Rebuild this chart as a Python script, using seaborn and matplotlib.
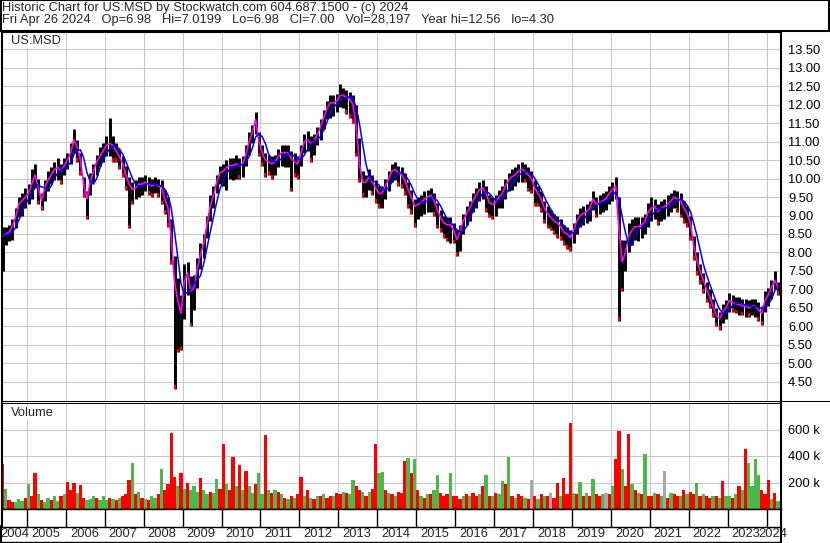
import numpy as np
import pandas as pd
import matplotlib
matplotlib.use("Agg")
import matplotlib.pyplot as plt
from matplotlib.lines import Line2D
from matplotlib.patches import Rectangle
import seaborn as sns

# monthly values, May 2004 .. Apr 2024
start_month = "2004-05"

close = [
    8.45, 8.50, 8.55, 8.70, 8.95, 9.30, 9.40, 9.50,                          # 2004
    9.60, 9.85, 10.10, 9.75, 9.40, 9.75, 9.95, 10.10, 10.25, 10.30, 10.20, 10.35,  # 2005
    10.50, 10.70, 11.05, 10.85, 10.50, 9.85, 9.45, 9.90, 10.20, 10.45, 10.60, 10.75,  # 2006
    10.90, 10.95, 10.90, 10.75, 10.60, 10.40, 10.10, 9.85, 9.70, 9.75, 9.85, 9.85,  # 2007
    9.90, 9.85, 9.80, 9.85, 9.80, 9.75, 9.45, 9.20, 8.40, 7.20, 6.70, 6.35,  # 2008
    7.20, 7.45, 6.95, 7.05, 7.55, 7.95, 8.25, 8.75, 9.25, 9.55, 9.90, 10.15,  # 2009
    10.20, 10.30, 10.35, 10.35, 10.40, 10.35, 10.40, 10.65, 11.00, 11.25, 11.60, 11.00,  # 2010
    10.70, 10.50, 10.45, 10.40, 10.45, 10.60, 10.70, 10.70, 10.70, 10.55, 10.45, 10.40,  # 2011
    10.70, 11.00, 11.05, 10.95, 11.00, 11.20, 11.40, 11.65, 11.90, 12.05, 12.05, 12.10,  # 2012
    12.25, 12.25, 12.20, 12.15, 12.00, 11.40, 10.40, 9.90, 9.90, 10.05, 9.90, 9.75,  # 2013
    9.60, 9.60, 9.80, 10.00, 10.20, 10.25, 10.15, 10.10, 9.95, 9.70, 9.50, 9.25,  # 2014
    9.30, 9.35, 9.45, 9.50, 9.55, 9.40, 9.15, 8.95, 8.80, 8.75, 8.75, 8.60,  # 2015
    8.35, 8.55, 8.85, 9.05, 9.20, 9.40, 9.55, 9.70, 9.75, 9.60, 9.35, 9.30,  # 2016
    9.35, 9.50, 9.60, 9.80, 9.95, 10.05, 10.10, 10.20, 10.25, 10.20, 10.10, 10.00,  # 2017
    9.75, 9.60, 9.45, 9.20, 9.05, 8.95, 8.85, 8.80, 8.70, 8.55, 8.50, 8.40,  # 2018
    8.60, 8.85, 9.00, 9.05, 9.10, 9.20, 9.45, 9.30, 9.35, 9.40, 9.45, 9.60,  # 2019
    9.70, 9.80, 8.60, 7.75, 8.00, 8.45, 8.60, 8.70, 8.70, 8.75, 8.85, 9.10,  # 2020
    9.20, 9.25, 9.10, 9.20, 9.25, 9.30, 9.40, 9.50, 9.45, 9.40, 9.20, 9.05,  # 2021
    8.80, 8.20, 7.80, 7.50, 7.25, 7.00, 6.80, 6.55, 6.30, 6.20, 6.40, 6.50,  # 2022
    6.70, 6.65, 6.60, 6.60, 6.55, 6.55, 6.50, 6.55, 6.55, 6.45, 6.35, 6.70,  # 2023
    6.85, 7.05, 7.25, 7.05,                                                  # 2024
]

# distance of the monthly high / low from the close
band_up = [
    0.25, 0.20, 0.20, 0.20, 0.25, 0.20, 0.20, 0.25,
    0.25, 0.40, 0.30, 0.25, 0.20, 0.20, 0.25, 0.20, 0.20, 0.25, 0.20, 0.20,
    0.20, 0.25, 0.30, 0.20, 0.20, 0.20, 0.20, 0.25, 0.20, 0.20, 0.25, 0.20,
    0.25, 0.70, 0.25, 0.20, 0.20, 0.20, 0.25, 0.20, 0.20, 0.20, 0.20, 0.20,
    0.20, 0.20, 0.20, 0.20, 0.20, 0.20, 0.25, 0.30, 0.50, 0.70, 0.60, 0.50,
    0.50, 0.30, 0.40, 0.35, 0.30, 0.30, 0.25, 0.25, 0.30, 0.25, 0.20, 0.20,
    0.20, 0.20, 0.20, 0.20, 0.25, 0.20, 0.20, 0.25, 0.25, 0.20, 0.20, 0.25,
    0.20, 0.20, 0.20, 0.20, 0.20, 0.20, 0.20, 0.20, 0.20, 0.20, 0.25, 0.20,
    0.20, 0.20, 0.25, 0.20, 0.20, 0.20, 0.20, 0.20, 0.20, 0.20, 0.20, 0.20,
    0.30, 0.20, 0.20, 0.20, 0.25, 0.60, 0.70, 0.30, 0.20, 0.20, 0.20, 0.20,
    0.20, 0.20, 0.20, 0.20, 0.20, 0.20, 0.20, 0.20, 0.20, 0.20, 0.20, 0.20,
    0.20, 0.20, 0.20, 0.20, 0.20, 0.20, 0.20, 0.20, 0.20, 0.20, 0.20, 0.20,
    0.25, 0.20, 0.20, 0.20, 0.20, 0.20, 0.20, 0.20, 0.20, 0.20, 0.20, 0.20,
    0.20, 0.20, 0.20, 0.20, 0.20, 0.20, 0.20, 0.20, 0.20, 0.20, 0.20, 0.20,
    0.20, 0.20, 0.20, 0.20, 0.20, 0.20, 0.20, 0.20, 0.20, 0.20, 0.20, 0.20,
    0.20, 0.20, 0.20, 0.20, 0.20, 0.20, 0.20, 0.20, 0.20, 0.20, 0.20, 0.20,
    0.20, 0.25, 0.90, 0.60, 0.35, 0.35, 0.30, 0.25, 0.25, 0.20, 0.20, 0.25,
    0.30, 0.20, 0.20, 0.20, 0.20, 0.25, 0.20, 0.20, 0.20, 0.20, 0.20, 0.20,
    0.20, 0.25, 0.20, 0.20, 0.20, 0.20, 0.20, 0.20, 0.20, 0.20, 0.20, 0.20,
    0.20, 0.20, 0.20, 0.20, 0.20, 0.20, 0.20, 0.20, 0.20, 0.20, 0.20, 0.25,
    0.20, 0.20, 0.25, 0.15,
]
band_dn = [
    0.95, 0.30, 0.25, 0.35, 0.30, 0.35, 0.40, 0.30,
    0.30, 0.40, 0.35, 0.45, 0.25, 0.35, 0.30, 0.25, 0.30, 0.35, 0.35, 0.25,
    0.25, 0.30, 0.35, 0.40, 0.40, 0.35, 0.55, 0.35, 0.30, 0.35, 0.25, 0.30,
    0.30, 0.35, 0.45, 0.30, 0.35, 0.35, 0.40, 1.20, 0.40, 0.30, 0.35, 0.30,
    0.25, 0.30, 0.30, 0.25, 0.30, 0.45, 0.40, 0.50, 0.70, 2.90, 1.40, 1.00,
    1.00, 0.60, 0.95, 0.60, 0.50, 0.40, 0.40, 0.35, 0.40, 0.35, 0.30, 0.30,
    0.40, 0.60, 0.35, 0.40, 0.40, 0.35, 0.35, 0.30, 0.35, 0.30, 0.40, 0.40,
    0.35, 0.45, 0.35, 0.40, 0.35, 0.30, 0.35, 0.40, 0.40, 0.90, 0.40, 0.40,
    0.35, 0.30, 0.30, 0.50, 0.35, 0.30, 0.35, 0.30, 0.30, 0.40, 0.35, 0.30,
    0.30, 0.35, 0.45, 0.50, 0.50, 0.80, 0.50, 0.40, 0.40, 0.35, 0.35, 0.40,
    0.40, 0.40, 0.35, 0.35, 0.30, 0.30, 0.35, 0.35, 0.40, 0.50, 0.45, 0.55,
    0.40, 0.35, 0.40, 0.40, 0.45, 0.40, 0.50, 0.40, 0.40, 0.45, 0.50, 0.35,
    0.45, 0.50, 0.35, 0.30, 0.35, 0.30, 0.35, 0.30, 0.30, 0.50, 0.40, 0.40,
    0.35, 0.30, 0.40, 0.35, 0.30, 0.35, 0.30, 0.30, 0.35, 0.30, 0.45, 0.40,
    0.50, 0.35, 0.35, 0.40, 0.40, 0.35, 0.35, 0.40, 0.35, 0.35, 0.40, 0.35,
    0.35, 0.35, 0.30, 0.30, 0.30, 0.35, 0.30, 0.35, 0.30, 0.30, 0.30, 0.30,
    0.30, 0.35, 2.45, 0.80, 0.50, 0.45, 0.40, 0.35, 0.40, 0.35, 0.35, 0.40,
    0.35, 0.35, 0.35, 0.35, 0.35, 0.30, 0.30, 0.30, 0.35, 0.45, 0.40, 0.35,
    0.45, 0.40, 0.40, 0.35, 0.35, 0.35, 0.30, 0.30, 0.30, 0.30, 0.30, 0.30,
    0.30, 0.25, 0.25, 0.30, 0.25, 0.30, 0.25, 0.25, 0.30, 0.30, 0.30, 0.30,
    0.30, 0.30, 0.25, 0.20,
]

# volume in thousands of shares
volume_k = [
    340, 150, 70, 55, 50, 75, 60, 85,
    185, 100, 275, 110, 65, 55, 80, 65, 95, 60, 100, 110,
    205, 140, 200, 120, 180, 85, 65, 75, 95, 85, 65, 100,
    65, 85, 75, 65, 85, 95, 110, 220, 350, 110, 130, 85,
    75, 65, 95, 85, 110, 300, 140, 190, 575, 240, 170, 270,
    150, 195, 140, 170, 130, 235, 140, 110, 130, 120, 230, 150,
    490, 190, 140, 390, 170, 335, 140, 290, 170, 120, 190, 275,
    110, 560, 140, 120, 140, 130, 110, 85, 75, 95, 85, 110,
    245, 95, 145, 85, 75, 95, 100, 110, 85, 95, 100, 120,
    110, 130, 120, 110, 220, 170, 140, 130, 95, 130, 150, 490,
    275, 280, 140, 120, 110, 95, 130, 120, 360, 385, 270, 380,
    140, 100, 85, 110, 110, 140, 260, 120, 100, 110, 270, 95,
    100, 75, 95, 110, 100, 120, 95, 110, 170, 260, 100, 95,
    120, 110, 215, 190, 395, 100, 85, 110, 95, 85, 75, 220,
    95, 75, 110, 100, 95, 120, 85, 195, 100, 235, 110, 650,
    120, 110, 205, 95, 120, 100, 230, 110, 100, 110, 120, 110,
    175, 380, 590, 300, 170, 565, 190, 140, 120, 110, 414, 100,
    95, 120, 110, 95, 290, 85, 120, 110, 100, 95, 140, 110,
    130, 110, 195, 100, 110, 95, 85, 100, 95, 85, 210, 95,
    100, 85, 110, 170, 140, 450, 345, 170, 380, 260, 140, 110,
    220, 75, 124, 60,
]

# volume bar colour: r = down, g = up, n = unchanged
vol_dir = (
    "rgrrgggr"
    "grrgrggrggrg" "rrrgrrgggrgg" "grgrgrrrgrgr" "grggrgrrrrgr" "grgggrggrggr"
    "rgrrgrgrggrg" "grgrgrgrgrgr" "rgrgrgrgrrgr" "rgrggrrgrgrr" "ggrgrgrrrgrg"
    "rgrgrggrrrgr" "rrgrgrrgrgrg" "rggrgrgrrgrn" "rgrgrnrrgrrr" "grgrgrgrrgnr"
    "grrgrrgrgrgr" "rgrgnrgrrgrg" "rrgrgrrgrgrg" "grgrgrggggrr"
    "rgrg"
)

years = list(range(2004, 2025))

title_1 = "Historic Chart for US:MSD by Stockwatch.com 604.687.1500 - (c) 2024"
title_2 = ("Fri Apr 26 2024   Op=6.98   Hi=7.0199   Lo=6.98   Cl=7.00   "
           "Vol=28,197   Year hi=12.56   lo=4.30")

# ---- build the table
months = pd.period_range(start_month, periods=len(close), freq="M")
prices = pd.DataFrame({
    "t": np.asarray(months.year + (months.month - 0.5) / 12.0, dtype=float),
    "close": close,
})
prices["high"] = prices["close"] + np.array(band_up)
prices["low"] = prices["close"] - np.array(band_dn)
prices["ma"] = prices["close"].rolling(4, min_periods=1).mean()
prices["vol"] = np.array(volume_k) * 1000
vol_colors = {"r": "#ff0000", "g": "#4cb84c", "n": "#a8a8a8"}
prices["vcol"] = [vol_colors[c] for c in vol_dir]

# ---- figure, laid out in pixels
W, H = 830, 543
sns.set_style("white")
plt.rcParams["font.family"] = ["Liberation Sans", "DejaVu Sans"]
FS = 9.3
GRID = "#c8c8c8"

fig = plt.figure(figsize=(W / 100, H / 100), dpi=100)


def px_axes(x0, y0, x1, y1):
    return fig.add_axes([x0 / W, 1 - y1 / H, (x1 - x0) / W, (y1 - y0) / H])


def fig_line(x0, y0, x1, y1, lw=0.75):
    fig.add_artist(Line2D([x0 / W, x1 / W], [1 - y0 / H, 1 - y1 / H],
                          color="black", lw=lw, transform=fig.transFigure))


XLIM = (2004.36, 2024.37)

# header box
fig.add_artist(Rectangle((0.5 / W, 1 - 31 / H), 828 / W, 30.5 / H, transform=fig.transFigure,
                         fill=False, ec="black", lw=1.5))
fig.text(2 / W, 1 - 8 / H, title_1, ha="left", va="center", fontsize=FS)
fig.text(2 / W, 1 - 20.5 / H, title_2, ha="left", va="center", fontsize=FS)

# price panel
ax = px_axes(2, 31.5, 781, 401)
ax.vlines(prices["t"], prices["low"], prices["high"], color="black", lw=2.1, zorder=2)
down = prices[prices["close"].diff() < 0]
ax.vlines(down["t"], down["low"], down["low"] + 0.1, color="red", lw=1.6, zorder=3)
sns.lineplot(data=prices, x="t", y="close", ax=ax, color="#ff00ff", linewidth=1.2, zorder=4)
sns.lineplot(data=prices, x="t", y="ma", ax=ax, color="#0000ff", linewidth=1.1, zorder=5)
ax.set_xlim(*XLIM)
ax.set_ylim(3.98, 13.98)
ax.set_yticks(np.arange(4.5, 13.51, 0.5))
ax.set_yticklabels([f"{v:.2f}" for v in np.arange(4.5, 13.51, 0.5)])
ax.yaxis.tick_right()
ax.set_xticks(years[1:])
ax.tick_params(axis="x", length=0, labelbottom=False)
ax.tick_params(axis="y", length=0, pad=5, labelsize=FS, labelcolor="black")
ax.grid(True, color=GRID, lw=0.75, zorder=0)
ax.set_axisbelow(True)
ax.set_xlabel("")
ax.set_ylabel("")
for side, lw in [("left", 1.5), ("right", 1.5), ("top", 1.5), ("bottom", 0.75)]:
    ax.spines[side].set_color("black")
    ax.spines[side].set_linewidth(lw)
ax.text(9 / 779, 1 - 10 / 369.5, "US:MSD", transform=ax.transAxes, ha="left", va="center",
        fontsize=FS, bbox=dict(fc="white", ec="none", pad=0.5), zorder=6)

# volume panel
axv = px_axes(2, 403, 781, 509)
axv.bar(prices["t"], prices["vol"], width=1 / 12, color=prices["vcol"], linewidth=0, zorder=2)
axv.set_xlim(*XLIM)
axv.set_ylim(0, 800000)
axv.set_yticks([200000, 400000, 600000])
axv.set_yticklabels(["200 k", "400 k", "600 k"])
axv.yaxis.tick_right()
axv.set_xticks(years[1:])
axv.tick_params(axis="x", length=0, labelbottom=False)
axv.tick_params(axis="y", length=0, pad=5, labelsize=FS, labelcolor="black")
axv.grid(True, color=GRID, lw=0.75, zorder=0)
axv.set_axisbelow(True)
for side, lw in [("left", 1.5), ("right", 1.5), ("top", 0.75), ("bottom", 1.0)]:
    axv.spines[side].set_color("black")
    axv.spines[side].set_linewidth(lw)
axv.text(9 / 779, 1 - 10 / 106, "Volume", transform=axv.transAxes, ha="left", va="center",
         fontsize=FS, bbox=dict(fc="white", ec="none", pad=0.5), zorder=6)

# year band under the volume panel
axb = px_axes(2, 509, 781, 526.5)
axb.set_xlim(*XLIM)
axb.set_ylim(0, 1)
axb.vlines(years[1:], 0, 1, color="black", lw=1.0)
axb.set_xticks([])
axb.set_yticks([])
for side, lw in [("left", 1.5), ("right", 1.5), ("top", 1.0), ("bottom", 1.0)]:
    axb.spines[side].set_color("black")
    axb.spines[side].set_linewidth(lw)

px_per_year = 779 / (XLIM[1] - XLIM[0])
for yr in years:
    if yr == 2004:
        x = XLIM[0] - 2 / px_per_year
    elif yr == 2024:
        x = yr - 8.7 / px_per_year
    else:
        x = yr + 4 / px_per_year
    axb.text(x, -0.42, str(yr), transform=axb.get_xaxis_transform(), ha="left", va="center",
             fontsize=FS, clip_on=False)

fig_line(1, 526, 1, 543, lw=1.5)
fig_line(781, 526, 781, 543, lw=1.5)
fig_line(0, 541.5, 781, 541.5, lw=1.0)
fig_line(781, 401, 830, 401, lw=0.75)

fig.savefig("out.png", dpi=100)
